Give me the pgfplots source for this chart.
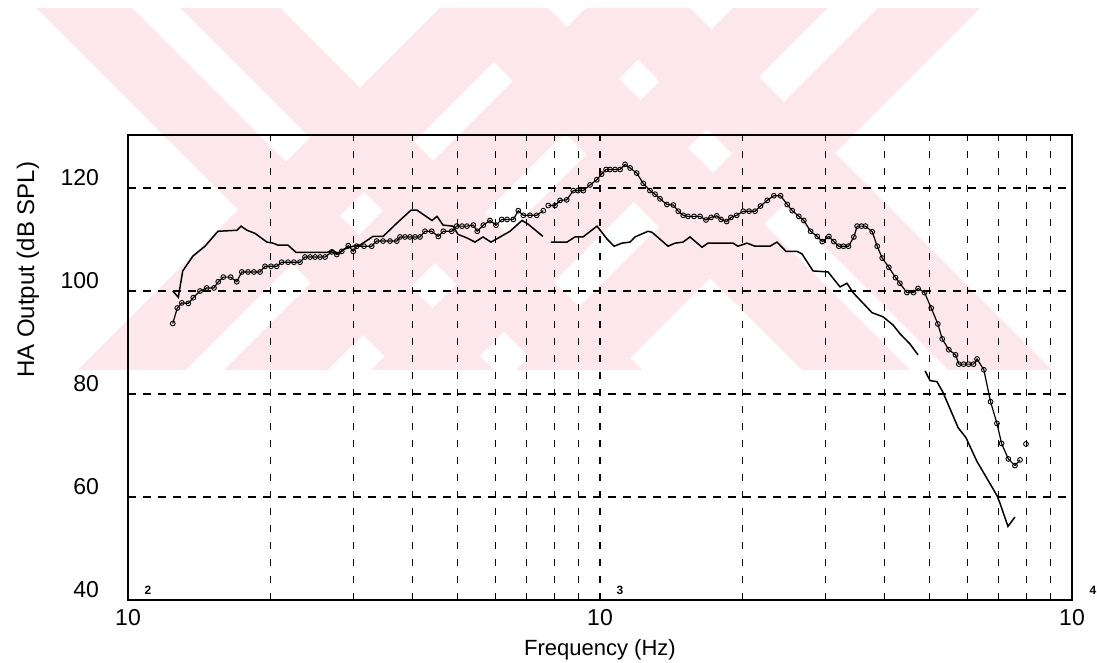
\documentclass[border=0pt]{standalone}
\usepackage{pgfplots}
\pgfplotsset{compat=1.18}
\usepackage{fontspec}
\setmainfont{Liberation Sans}
\definecolor{wm}{RGB}{252,232,236}

\pgfplotstableread{
f db
124.4 100.0
127.8 98.8
130.6 103.9
137.3 106.8
145.6 108.7
155.1 111.6
170.2 111.8
173.6 112.6
178.7 111.8
185.8 111.2
197.0 109.5
202.9 109.3
207.9 108.9
218.3 108.9
227.0 107.5
264.0 107.5
271.8 107.9
278.6 107.2
286.8 108.1
299.7 108.7
310.0 108.9
330.4 110.6
347.0 110.6
371.4 113.2
397.8 115.7
409.5 115.7
421.7 114.9
440.7 113.7
451.6 114.5
465.0 112.8
488.0 112.6
500.2 111.0
522.6 110.3
543.5 109.5
565.0 110.5
587.6 109.5
617.0 110.6
644.6 111.6
683.5 113.7
704.0 113.0
757.0 110.6
770 nan
787.5 109.5
851.3 109.5
885.0 110.5
920.5 110.5
985.4 112.6
1035 110.1
1071 108.7
1113 109.3
1158 109.5
1186 110.5
1264 111.6
1289 111.4
1394 108.7
1442 109.3
1499 109.5
1551 110.5
1645 108.5
1693 109.3
1913 109.3
1960 108.7
2048 109.3
2130 108.7
2292 108.7
2371 109.5
2478 107.7
2615 107.7
2679 107.2
2827 103.9
3042 103.7
3225 100.8
3337 101.5
3436 99.7
3770 95.8
3977 95.0
4177 93.4
4321 91.7
4538 89.7
4718 87.6
4800 nan
4883 84.5
5003 82.6
5176 82.4
5330 80.3
5735 73.5
5963 71.5
6291 66.9
6934 60.3
7037 58.8
7316 54.3
7570 56.1
}\curveA

\pgfplotstableread{
f db
124.4 93.7
127.2 96.7
130.0 97.7
134.2 97.6
137.5 98.7
142.1 100.0
146.8 100.6
152.1 100.6
155.3 101.8
159.2 102.7
165.0 102.7
170.0 101.8
174.2 103.7
179.6 103.7
184.9 103.7
190.4 103.7
195.1 104.8
200.9 104.8
206.5 104.8
211.6 105.6
218.3 105.6
224.7 105.6
231.4 105.6
237.1 106.6
243.0 106.6
249.0 106.6
255.2 106.6
261.5 106.6
270.2 107.6
276.8 107.1
283.7 107.7
292.9 108.8
300.1 107.7
305.1 108.7
316.2 108.7
328.3 108.7
336.4 109.7
347.0 109.7
359.0 109.7
371.0 109.7
377.0 110.5
386.3 110.5
395.8 110.5
405.6 110.5
415.5 110.5
425.8 111.6
440.0 111.6
454.4 110.6
465.6 111.6
485.1 111.6
497.0 112.6
510.0 112.6
522.6 112.6
539.0 112.8
549.5 111.6
566.0 112.8
584.7 113.7
602.1 112.8
619.1 113.9
635.4 113.9
655.1 113.9
671.3 115.6
687.9 114.7
710.7 114.7
734.4 114.7
758.4 115.6
768 nan
777.1 116.6
803.0 116.6
822.8 117.6
850.0 117.7
877.9 119.5
898.3 119.5
921.8 119.5
952.4 120.6
984.1 121.6
1008 122.7
1030 123.6
1050 123.6
1076 123.6
1103 123.6
1130 124.6
1158 123.9
1196 122.9
1235 120.9
1276 119.5
1308 118.8
1340 117.9
1386 116.8
1430 116.7
1465 115.5
1501 114.7
1536 114.5
1582 114.5
1629 114.5
1677 113.8
1719 114.3
1767 114.6
1805 113.9
1855 113.5
1894 114.3
1948 114.7
2012 115.5
2069 115.5
2130 115.5
2188 116.5
2261 117.6
2335 118.5
2413 118.5
2493 116.8
2554 115.6
2638 114.5
2703 113.7
2793 111.6
2886 110.6
2957 109.6
3054 110.6
3129 109.6
3206 108.7
3280 108.7
3361 108.7
3450 110.5
3507 112.6
3582 112.6
3652 112.6
3774 111.5
3867 108.7
3962 106.4
4092 104.6
4228 102.6
4318 101.5
4468 99.7
4616 99.7
4718 100.5
4870 99.7
5032 96.7
5197 93.6
5310 90.7
5483 88.6
5666 87.6
5758 85.8
5892 85.8
6037 85.8
6186 85.8
6293 86.8
6505 84.7
6721 78.5
6934 74.3
7092 70.4
7329 67.4
7570 66.1
7759 67.2
}\curveB

\begin{document}
\begin{tikzpicture}
% faint background watermark (pixel coordinates of the reference)
\begin{scope}[x=0.5pt,y=-0.5pt,shift={(-64pt,300pt)}]
\fill[wm] (36,8)--(132,8)--(494,370)--(398,370)--cycle;
\fill[wm] (180,8)--(280,8)--(642,370)--(542,370)--cycle;
\fill[wm] (440,8)--(548,8)--(910,370)--(802,370)--cycle;
\fill[wm] (586,8)--(690,8)--(1052,370)--(948,370)--cycle;
\fill[wm] (440,8)--(548,8)--(186,370)--(78,370)--cycle;
\fill[wm] (586,8)--(690,8)--(328,370)--(224,370)--cycle;
\fill[wm] (733,8)--(828,8)--(466,370)--(371,370)--cycle;
\fill[wm] (878,8)--(980,8)--(618,370)--(516,370)--cycle;
\end{scope}
\begin{axis}[
  name=ax, at={(0,0)}, anchor=south west,
  width=472pt, height=232.5pt, scale only axis,
  xmode=log, xmin=100, xmax=10000, ymin=40, ymax=130.3,
  xtick={100,1000,10000}, xticklabels={10,10,10},
  minor xtick={200,300,400,500,600,700,800,900,1000,2000,3000,4000,5000,6000,7000,8000,9000},
  ytick={40,60,80,100,120},
  xminorgrids, ymajorgrids,
  major grid style={black, line width=0.6pt, dash pattern=on 4pt off 3.5pt},
  minor grid style={black, line width=0.55pt, dash pattern=on 3.5pt off 5pt},
  major tick length=0pt, minor tick length=0pt,
  axis line style={black, line width=0.7pt},
  /pgf/number format/assume math mode=true,
  tick label style={font=\fontsize{11.5}{13}\selectfont},
  yticklabel style={xshift=-11pt, yshift=5pt},
  xticklabel style={yshift=-1pt},
  xlabel={Frequency (Hz)}, ylabel={HA Output (dB SPL)},
  xlabel style={font=\fontsize{11}{13}\selectfont, at={(axis description cs:0.5,-0.108)}, anchor=center},
  ylabel style={font=\fontsize{12}{14}\selectfont, at={(axis description cs:-0.106,0.71)}, anchor=center},
  unbounded coords=jump,
  clip=false,
]
\addplot[black, line width=0.75pt] table[x=f, y=db] {\curveA};
\addplot[black, line width=0.6pt, mark=o, mark size=1.2pt, mark options={solid, line width=0.45pt}] table[x=f, y=db] {\curveB};
\addplot[only marks, black, mark=o, mark size=1.2pt, mark options={line width=0.45pt}] coordinates {(7989,70.3)};
\node[font=\fontsize{6}{7}\selectfont\bfseries] at (axis cs:100,40) [xshift=10pt, yshift=5pt] {2};
\node[font=\fontsize{6}{7}\selectfont\bfseries] at (axis cs:1000,40) [xshift=10pt, yshift=5pt] {3};
\node[font=\fontsize{6}{7}\selectfont\bfseries] at (axis cs:10000,40) [xshift=10.5pt, yshift=5pt] {4};
\end{axis}
\pgfresetboundingbox
\path[use as bounding box] (-64pt,-31.5pt) rectangle (484.5pt,300pt);
\end{tikzpicture}
\end{document}
